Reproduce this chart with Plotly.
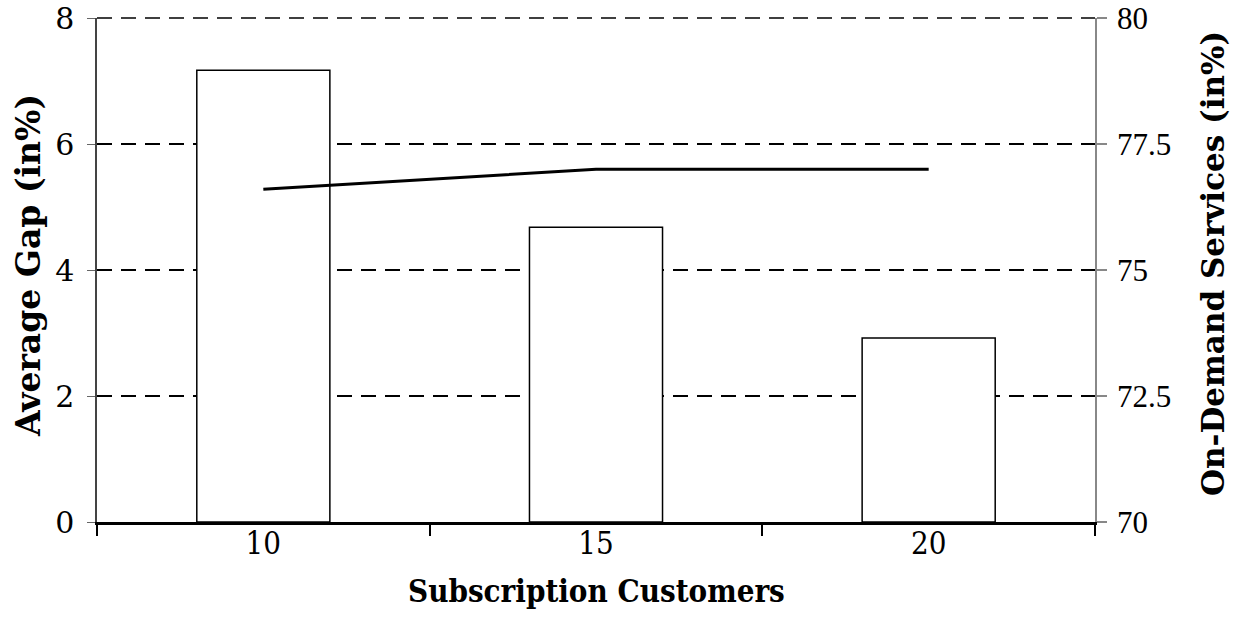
import plotly.graph_objects as go

# Data
customers = ["10", "15", "20"]
average_gap = [7.17, 4.68, 2.92]          # left axis, %
on_demand_services = [76.6, 77.0, 77.0]   # right axis, %

left_ticks = [0, 2, 4, 6, 8]
right_ticks = [70, 72.5, 75, 77.5, 80]
right_tick_text = ["70", "72.5", "75", "77.5", "80"]

fig = go.Figure()

fig.add_trace(go.Bar(
    x=customers,
    y=average_gap,
    width=0.4,
    marker=dict(color="white", line=dict(color="black", width=1.5)),
    name="Average Gap",
    yaxis="y",
))

fig.add_trace(go.Scatter(
    x=customers,
    y=on_demand_services,
    mode="lines",
    line=dict(color="black", width=3),
    name="On-Demand Services",
    yaxis="y2",
))

serif = "DejaVu Serif"
serif_cond = "DejaVu Serif Condensed"
grid_dash = "15px,9px"

fig.update_layout(
    width=1237,
    height=620,
    margin=dict(l=97, r=142, t=18, b=98),
    paper_bgcolor="white",
    plot_bgcolor="white",
    showlegend=False,
    xaxis=dict(
        type="category",
        tickson="boundaries",
        ticks="outside",
        ticklen=11,
        tickwidth=1.5,
        tickcolor="black",
        showline=True,
        linecolor="black",
        linewidth=2.5,
        showgrid=False,
        automargin=False,
        ticklabelstandoff=-8,
        ticklabeloverflow="allow",
        tickfont=dict(family=serif_cond, size=31, color="black"),
    ),
    yaxis=dict(
        range=[0, 8],
        tickvals=left_ticks,
        ticks="outside",
        ticklen=8,
        tickcolor="#666666",
        tickwidth=1,
        ticklabelstandoff=7,
        ticklabeloverflow="allow",
        showline=True,
        linecolor="#444444",
        linewidth=1.5,
        showgrid=True,
        gridcolor="black",
        gridwidth=1.5,
        griddash=grid_dash,
        zeroline=False,
        automargin=False,
        tickfont=dict(family=serif, size=30, color="black"),
    ),
    yaxis2=dict(
        range=[70, 80],
        tickvals=right_ticks,
        ticktext=right_tick_text,
        overlaying="y",
        side="right",
        ticks="outside",
        ticklen=10,
        tickcolor="#888888",
        tickwidth=1.5,
        ticklabelstandoff=4,
        ticklabeloverflow="allow",
        showline=True,
        linecolor="#888888",
        linewidth=1.5,
        showgrid=False,
        zeroline=False,
        automargin=False,
        tickfont=dict(family="Liberation Serif", size=31, color="black"),
    ),
    shapes=[
        # dashed gridline along the top of the plot (value 8)
        dict(type="line", xref="paper", yref="paper", x0=0, x1=1, y0=1, y1=1,
             line=dict(color="black", width=1.5, dash=grid_dash), layer="below"),
    ],
    annotations=[
        dict(text="<b>Subscription Customers</b>", xref="paper", yref="paper",
             x=0.5, y=0, xanchor="center", yanchor="middle", yshift=-69,
             showarrow=False, font=dict(family=serif_cond, size=31, color="black")),
        dict(text="<b>Average Gap (in%)</b>", xref="paper", yref="paper",
             x=0, y=0.5, xanchor="center", yanchor="middle", xshift=-69, yshift=4,
             textangle=-90, showarrow=False,
             font=dict(family=serif, size=33, color="black")),
        dict(text="<b>On-Demand Services (in%)</b>", xref="paper", yref="paper",
             x=1, y=0.5, xanchor="center", yanchor="middle", xshift=118, yshift=6,
             textangle=-90, showarrow=False,
             font=dict(family=serif, size=31, color="black")),
    ],
)

fig.write_html("out.html")
